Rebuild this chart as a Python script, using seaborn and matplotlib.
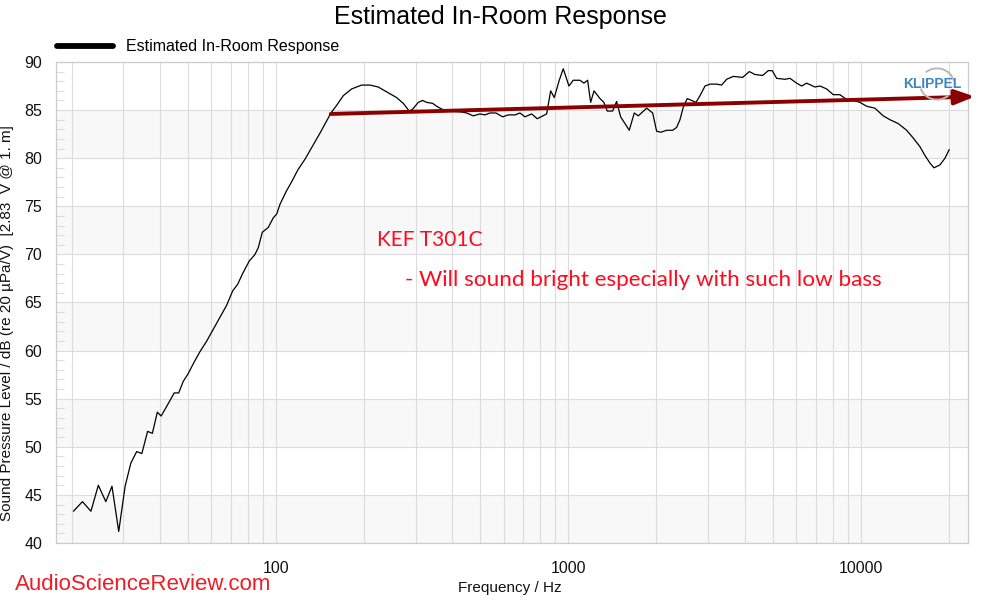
import numpy as np
import pandas as pd
import matplotlib
matplotlib.use("Agg")
import matplotlib.pyplot as plt
from matplotlib.patches import Arc
from matplotlib.ticker import FixedLocator, NullFormatter, FixedFormatter
import seaborn as sns

freq = [20.3, 21.8, 23.3, 24.7, 26.2, 27.5, 29.0, 30.5, 31.9, 33.4,
        34.8, 36.4, 37.8, 39.3, 40.5, 42.3, 44.9, 46.5, 48.2, 50.1,
        52.5, 55.0, 58.0, 61.0, 64.4, 67.8, 71.1, 74.0, 76.9, 81.0,
        84.8, 87.0, 89.8, 94.1, 97.9, 100.6, 103.2, 108.2, 113.4, 118.9,
        125.7, 132.4, 141.4, 154.2, 161.3, 169.9, 181.5, 196.3, 209.6, 223.7,
        239.0, 258.5, 272.4, 285.5, 293.4, 306.6, 317.3, 327.5, 343.3, 354.3,
        368.6, 393.4, 431.4, 448.7, 472.6, 498.2, 518.2, 539.0, 565.1, 595.7,
        622.6, 656.3, 682.6, 710.1, 748.6, 782.3, 842.4, 869.4, 894.5, 930.2,
        960.0, 1004, 1038, 1095, 1130, 1163, 1191, 1223, 1282, 1322,
        1357, 1416, 1461, 1508, 1614, 1679, 1733, 1851, 1941, 2002,
        2071, 2166, 2271, 2344, 2406, 2469, 2548, 2729, 2817, 2930,
        3047, 3210, 3339, 3474, 3660, 3941, 4152, 4342, 4612, 4821,
        4975, 5150, 5499, 5720, 6029, 6271, 6523, 6961, 7241, 7634,
        8043, 8476, 8935, 9413, 9922, 10460, 11160, 11920, 12560, 13410,
        14330, 15090, 15910, 16540, 17210, 17770, 18630, 19380, 20040]

spl = [43.3, 44.3, 43.3, 46.0, 44.3, 45.9, 41.2, 45.9, 48.3, 49.5,
       49.3, 51.6, 51.4, 53.6, 53.2, 54.2, 55.6, 55.6, 56.8, 57.6,
       58.8, 59.9, 61.0, 62.2, 63.5, 64.7, 66.2, 66.9, 68.0, 69.3,
       70.0, 70.7, 72.3, 72.8, 73.8, 74.2, 75.2, 76.5, 77.6, 78.8,
       79.9, 81.1, 82.6, 84.7, 85.5, 86.5, 87.2, 87.6, 87.6, 87.4,
       86.9, 86.3, 85.7, 84.9, 85.1, 85.8, 86.0, 85.8, 85.7, 85.4,
       85.1, 84.9, 84.8, 84.7, 84.4, 84.6, 84.5, 84.7, 84.7, 84.3,
       84.5, 84.5, 84.7, 84.3, 84.6, 84.1, 84.6, 87.0, 86.3, 88.1,
       89.3, 87.5, 88.1, 88.1, 87.8, 88.1, 85.8, 87.0, 86.2, 85.8,
       84.9, 84.9, 85.9, 84.3, 82.9, 84.7, 84.4, 85.2, 84.7, 82.8,
       82.7, 82.9, 82.9, 83.2, 84.0, 85.3, 86.2, 85.8, 86.5, 87.5,
       87.7, 87.7, 87.6, 88.2, 88.5, 88.4, 89.0, 88.7, 88.6, 89.1,
       89.1, 88.3, 88.2, 88.3, 87.8, 87.5, 87.8, 87.4, 87.5, 87.2,
       86.6, 86.6, 86.1, 86.0, 85.8, 85.4, 85.2, 84.4, 84.0, 83.6,
       82.9, 82.1, 81.2, 80.3, 79.5, 79.0, 79.3, 80.0, 80.9]

x_major = [100, 1000, 10000]
x_major_labels = ["100", "1000", "10000"]
y_ticks = [40, 45, 50, 55, 60, 65, 70, 75, 80, 85, 90]
band_starts = [40, 50, 60, 70, 80]
trend_start = (154, 84.6)
trend_end = (24500, 86.4)

sns.set_style("white")
plt.rcParams["font.family"] = ["Liberation Sans", "DejaVu Sans"]

df = pd.DataFrame({"freq": freq, "spl": spl})

fig = plt.figure(figsize=(10, 6), dpi=100)
ax = fig.add_axes([0.056, 0.095, 0.912, 0.8017])

grid_c = "#dcdcdc"
for b in band_starts:
    ax.axhspan(b, b + 5, color="#f8f8f8", zorder=0, lw=0)

# vertical grid at every 1-2-..-9 decade value
vgrid = [m * 10 ** e for e in range(1, 5) for m in range(1, 10)]
vgrid = [v for v in vgrid if 17.7 < v < 23000]
for v in vgrid:
    ax.axvline(v, color=grid_c, lw=0.8, zorder=1)
for yv in y_ticks:
    ax.axhline(yv, color=grid_c, lw=0.8, zorder=1)

sns.lineplot(data=df, x="freq", y="spl", ax=ax, color="black", lw=0.9,
             sort=False, estimator=None, zorder=3, legend=False)

ax.set_xscale("log")
ax.set_xlim(17.7, 23230)
ax.set_ylim(40, 90)
ax.xaxis.set_major_locator(FixedLocator(x_major))
ax.xaxis.set_major_formatter(FixedFormatter(x_major_labels))
ax.xaxis.set_minor_locator(FixedLocator([]))
ax.xaxis.set_minor_formatter(NullFormatter())
ax.set_yticks(y_ticks)
ax.yaxis.set_minor_locator(FixedLocator([v for v in range(40, 91) if v % 5]))
ax.tick_params(axis="x", which="both", length=0, pad=13, labelsize=11.5,
               labelcolor="#111111")
ax.tick_params(axis="y", which="major", direction="out", length=7, width=0.8,
               color=grid_c, pad=3, labelsize=11.5, labelcolor="#111111")
ax.tick_params(axis="y", which="minor", direction="in", length=6, width=0.8,
               color=grid_c, left=True)
for s in ax.spines.values():
    s.set_color("#cccccc")
    s.set_linewidth(0.9)
ax.set_xlabel("")
ax.set_ylabel("")

fig.text(0.51, 1 - 588 / 600, "Frequency / Hz", ha="center", va="center",
         fontsize=11, color="#111111")
fig.text(0.007, 1 - 323 / 600,
         "Sound Pressure Level / dB (re 20 \u00b5Pa/V)  [2.83  V @ 1. m]",
         rotation=90, ha="center", va="center", fontsize=11, color="#111111")
fig.text(0.5, 1 - 17 / 600, "Estimated In-Room Response", ha="center",
         va="center", fontsize=18, color="black")

# legend
fig.add_artist(plt.Line2D([0.057, 0.113], [1 - 46 / 600, 1 - 46 / 600],
                          transform=fig.transFigure, color="black", lw=4.2))
fig.text(0.126, 1 - 46 / 600, "Estimated In-Room Response", ha="left",
         va="center", fontsize=11.5, color="black")

# trend arrow
ax.annotate("", xy=trend_end, xytext=trend_start, annotation_clip=False,
            arrowprops=dict(arrowstyle="-|>,head_length=1.2,head_width=0.45",
                            color="#8b0000", lw=2.8, shrinkA=0, shrinkB=0),
            zorder=5)

# annotations
fig.text(0.377, 1 - 240 / 600, "KEF T301C", ha="left", va="center",
         fontsize=15, color="#ff0a1e", family=["Lato", "DejaVu Sans"])
fig.text(0.405, 1 - 280 / 600,
         "- Will sound bright especially with such low bass", ha="left",
         va="center", fontsize=16.2, color="#ff0a1e",
         family=["Lato", "DejaVu Sans"])
fig.text(0.015, 1 - 584 / 600, "AudioScienceReview.com", ha="left",
         va="center", fontsize=16, color="#ee1c25")

# KLIPPEL logo
fig.text(0.932, 1 - 84 / 600, "KLIPPEL", ha="center", va="center",
         fontsize=10, fontweight="bold", color="#3f86bd")
arc_c = (0.937, 1 - 84 / 600)
for t1, t2 in [(20, 120), (205, 300)]:
    fig.add_artist(Arc(arc_c, 0.034, 0.052, theta1=t1, theta2=t2,
                       transform=fig.transFigure, color="#b8b8b8", lw=1.4))

fig.savefig("out.png", dpi=100)
